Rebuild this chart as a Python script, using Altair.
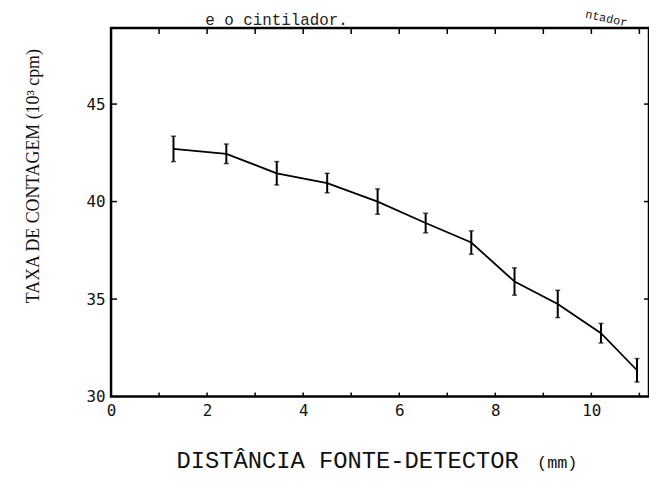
import altair as alt
import pandas as pd

# Data
dist = [1.3, 2.4, 3.45, 4.5, 5.55, 6.55, 7.5, 8.4, 9.3, 10.2, 10.95]
rate = [42.7, 42.45, 41.45, 40.95, 40.0, 38.9, 37.9, 35.9, 34.75, 33.25, 31.35]
err = [0.65, 0.5, 0.6, 0.5, 0.65, 0.5, 0.6, 0.7, 0.7, 0.5, 0.6]

x_labels = [0, 2, 4, 6, 8, 10]
y_labels = [30, 35, 40, 45]
x_minor = [1, 2, 3, 4, 5, 6, 7, 8, 9, 10, 11]
y_minor = [35, 40, 45]

x_title = ["DISTÂNCIA FONTE-DETECTOR"]
x_unit = ["(mm)"]
caption = ["e o cintilador."]
corner = ["ntador"]

W, H = 543, 372
XDOM = [0, 11.2]
YDOM = [30, 48.9]

df = pd.DataFrame({"d": dist, "r": rate, "e": err})
df["lo"] = df["r"] - df["e"]
df["hi"] = df["r"] + df["e"]

xs = alt.Scale(domain=XDOM, nice=False, zero=False)
ys = alt.Scale(domain=YDOM, nice=False, zero=False)

base = alt.Chart(df)

line = base.mark_line(color="black", strokeWidth=1.8).encode(
    x=alt.X("d:Q", scale=xs, axis=alt.Axis(
        values=x_labels, ticks=False, domain=False, grid=False,
        labelFont="DejaVu Sans Mono", labelFontSize=16, labelColor="#111",
        labelPadding=6, labelFlush=False, title="")),
    y=alt.Y("r:Q", scale=ys, axis=alt.Axis(
        values=y_labels, ticks=False, domain=False, grid=False,
        labelFont="DejaVu Sans Mono", labelFontSize=16, labelColor="#111",
        labelPadding=6, labelFlush=False,
        title="TAXA DE CONTAGEM (10³ cpm)", titleFont="Liberation Serif",
        titleFontSize=18, titleFontWeight="normal", titleColor="#111",
        titleAngle=-90, titleX=-78, titleY=149, titleAlign="center",
        titleBaseline="middle")),
)

bars = base.mark_rule(color="black", strokeWidth=2).encode(
    x=alt.X("d:Q", scale=xs), y=alt.Y("lo:Q", scale=ys), y2="hi:Q")
cap_lo = base.mark_tick(color="black", orient="horizontal", size=5, thickness=1.5).encode(
    x=alt.X("d:Q", scale=xs), y=alt.Y("lo:Q", scale=ys))
cap_hi = base.mark_tick(color="black", orient="horizontal", size=5, thickness=1.5).encode(
    x=alt.X("d:Q", scale=xs), y=alt.Y("hi:Q", scale=ys))

mx = alt.Chart(pd.DataFrame({"m": x_minor}))
my = alt.Chart(pd.DataFrame({"m": y_minor}))
tick_bottom = mx.mark_rule(color="black", strokeWidth=1.5).encode(
    x=alt.X("m:Q", scale=xs), y=alt.value(H), y2=alt.value(H - 4))
tick_top = mx.mark_rule(color="black", strokeWidth=1.5).encode(
    x=alt.X("m:Q", scale=xs), y=alt.value(0), y2=alt.value(6))
tick_left = my.mark_rule(color="black", strokeWidth=1.5).encode(
    y=alt.Y("m:Q", scale=ys), x=alt.value(0), x2=alt.value(6))
tick_right = my.mark_rule(color="black", strokeWidth=1.5).encode(
    y=alt.Y("m:Q", scale=ys), x=alt.value(W), x2=alt.value(W - 5))

xt = alt.Chart(pd.DataFrame({"t": x_title})).mark_text(
    font="Liberation Mono", fontSize=24, color="#111", align="left", baseline="alphabetic"
).encode(text="t:N", x=alt.value(66), y=alt.value(H + 72))
xu = alt.Chart(pd.DataFrame({"t": x_unit})).mark_text(
    font="Liberation Mono", fontSize=17, color="#111", align="left", baseline="alphabetic"
).encode(text="t:N", x=alt.value(430), y=alt.value(H + 72))

frag = alt.Chart(pd.DataFrame({"t": caption})).mark_text(
    font="Liberation Mono", fontSize=16, color="#222", align="left", baseline="alphabetic"
).encode(text="t:N", x=alt.value(95), y=alt.value(-3))
frag2 = alt.Chart(pd.DataFrame({"t": corner})).mark_text(
    font="Liberation Mono", fontSize=12, color="#222", align="center", baseline="middle",
    angle=12
).encode(text="t:N", x=alt.value(500), y=alt.value(-10))

chart = alt.layer(
    line, bars, cap_lo, cap_hi, tick_bottom, tick_top, tick_left, tick_right,
    xt, xu, frag, frag2
).properties(
    width=W, height=H,
    padding={"left": 104, "top": 18, "right": 0, "bottom": 82},
    autosize=alt.AutoSizeParams(type="none"),
).configure(background="white").configure_view(stroke="black", strokeWidth=2.5)

chart.save("out.html", embed_options={"renderer": "svg", "actions": False})
